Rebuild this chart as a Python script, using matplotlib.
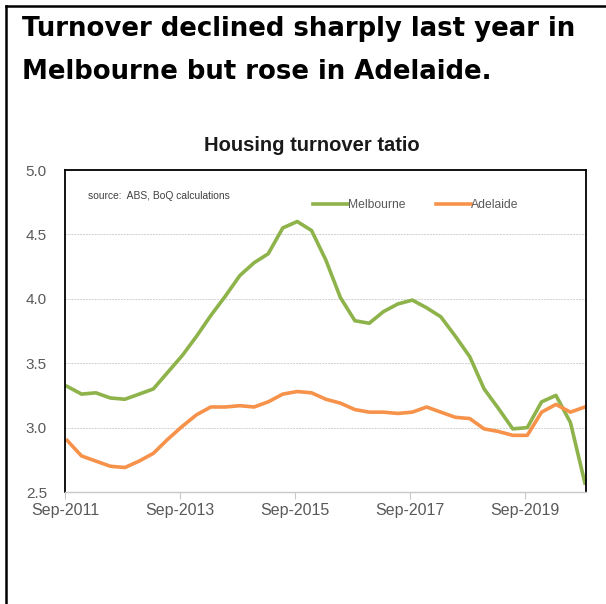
import numpy as np
import pandas as pd
import matplotlib
matplotlib.use('Agg')
import matplotlib.pyplot as plt
import matplotlib.dates as mdates
from matplotlib.lines import Line2D

# quarterly housing turnover ratio, Sep-2011 to Sep-2020
quarters = pd.date_range('2011-09-15', '2020-09-15', freq=pd.DateOffset(months=3))
melbourne = [3.32, 3.26, 3.27, 3.23, 3.22, 3.26, 3.30, 3.43, 3.56, 3.71,
             3.87, 4.02, 4.18, 4.28, 4.35, 4.55, 4.60, 4.53, 4.30, 4.01,
             3.83, 3.81, 3.90, 3.96, 3.99, 3.93, 3.86, 3.71, 3.55, 3.30,
             3.15, 2.99, 3.00, 3.20, 3.25, 3.04, 2.57]
adelaide = [2.90, 2.78, 2.74, 2.70, 2.69, 2.74, 2.80, 2.91, 3.01, 3.10,
            3.16, 3.16, 3.17, 3.16, 3.20, 3.26, 3.28, 3.27, 3.22, 3.19,
            3.14, 3.12, 3.12, 3.11, 3.12, 3.16, 3.12, 3.08, 3.07, 2.99,
            2.97, 2.94, 2.94, 3.12, 3.18, 3.12, 3.16]
tick_dates = pd.to_datetime(['2011-09-01', '2013-09-01', '2015-09-01',
                             '2017-09-01', '2019-09-01'])
y_ticks = [2.5, 3.0, 3.5, 4.0, 4.5, 5.0]

plt.rcParams['font.family'] = ['Liberation Sans', 'DejaVu Sans']

W, H = 606, 604
fig = plt.figure(figsize=(W / 100, H / 100), dpi=100)
ax = fig.add_axes([65 / W, 1 - 492 / H, (586 - 65) / W, (492 - 170) / H])

ax.plot(quarters, melbourne, color='#8db34a', lw=2.6, label='Melbourne',
        solid_joinstyle='round')
ax.plot(quarters, adelaide, color='#f7924a', lw=2.6, label='Adelaide',
        solid_joinstyle='round')

ax.set_xlim(pd.Timestamp('2011-09-01'), pd.Timestamp('2020-09-22'))
ax.set_ylim(2.5, 5.0)
ax.set_yticks(y_ticks)
ax.set_yticklabels(['%.1f' % v for v in y_ticks])
ax.set_xticks(tick_dates)
ax.xaxis.set_major_formatter(mdates.DateFormatter('%b-%Y'))

ax.grid(axis='y', color='#d0d0d0', lw=0.7, ls=(0, (2, 1)))
ax.set_axisbelow(True)
for side in ['left', 'top', 'right']:
    ax.spines[side].set_color('black')
    ax.spines[side].set_linewidth(1.3)
ax.spines['bottom'].set_color('#c8c8c8')
ax.spines['bottom'].set_linewidth(1.0)

ax.tick_params(axis='y', length=0, pad=13, labelsize=11, labelcolor='#595959')
ax.tick_params(axis='x', length=5, width=0.8, color='#c8c8c8', pad=3,
               labelsize=11.5, labelcolor='#595959')

ax.text(0.045, 0.92, 'source:  ABS, BoQ calculations', transform=ax.transAxes,
        fontsize=7.4, color='#404040', va='center')

leg = ax.legend(loc='center left', bbox_to_anchor=(0.476, 0.891), ncol=2,
                frameon=False, fontsize=8.7, handlelength=2.9,
                handletextpad=0.0, columnspacing=2.5, borderaxespad=0,
                borderpad=0)
for t in leg.get_texts():
    t.set_color('#595959')

fig.text(312 / W, 1 - 145 / H, 'Housing turnover tatio', ha='center',
         va='center', fontsize=14.5, fontweight='bold', color='#1a1a1a')

fig.text(22 / W, 1 - 29 / H, 'Turnover declined sharply last year in',
         fontsize=18.7, fontweight='bold', family='DejaVu Sans',
         va='center', ha='left')
fig.text(22 / W, 1 - 72 / H, 'Melbourne but rose in Adelaide.',
         fontsize=18.7, fontweight='bold', family='DejaVu Sans',
         va='center', ha='left')

# box border along top and left edges
fig.add_artist(Line2D([6 / W, 1], [1 - 6 / H, 1 - 6 / H], color='black',
                      lw=1.8, transform=fig.transFigure))
fig.add_artist(Line2D([6 / W, 6 / W], [0, 1 - 6 / H], color='black',
                      lw=1.8, transform=fig.transFigure))

fig.savefig('out.png', dpi=100)
